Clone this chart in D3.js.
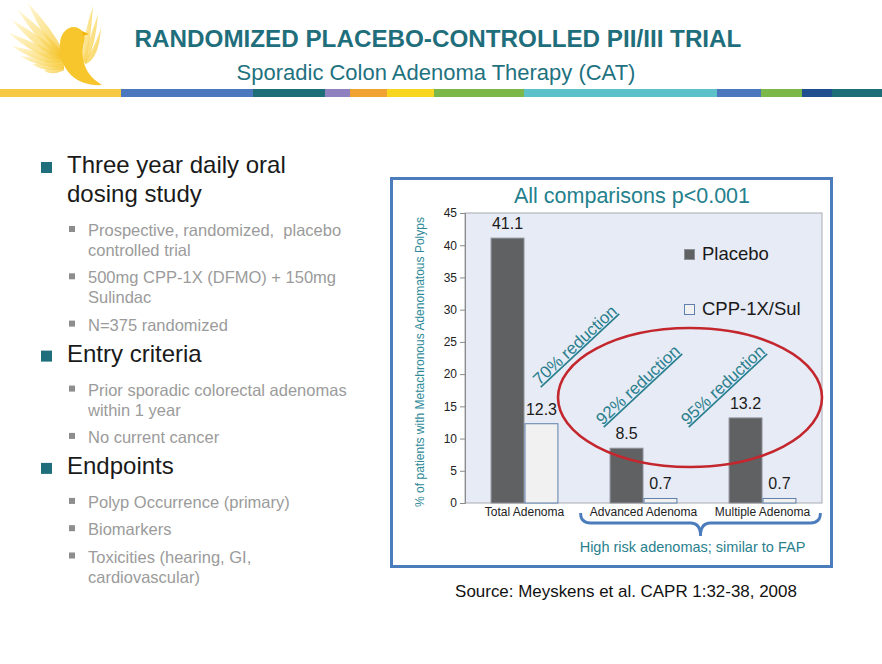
<!DOCTYPE html>
<html><head><meta charset="utf-8">
<script src="https://cdn.jsdelivr.net/npm/d3@7"></script>
<style>
html,body{margin:0;padding:0;background:#fff;}
svg{display:block;font-family:"Liberation Sans",Arial,Helvetica,sans-serif;}
</style></head>
<body>
<script>
// ---------- data ----------
const categories = ["Total Adenoma", "Advanced Adenoma", "Multiple Adenoma"];
const seriesNames = ["Placebo", "CPP-1X/Sul"];
const placeboValues = [41.1, 8.5, 13.2];
const treatedValues = [12.3, 0.7, 0.7];
const yTicks = [0, 5, 10, 15, 20, 25, 30, 35, 40, 45];
const reductionLabels = ["70% reduction", "92% reduction", "95% reduction"];
const reductionAnchorY = [18.2, 12.0, 12.0];      // data units (baseline start)
const reductionOffsetX = [15, -41, -75];          // px from category centre
const yAxisTitle = "% of patients with Metachronous Adenomatous Polyps";
const chartTitle = "All comparisons p<0.001";
const braceLabel = "High risk adenomas; similar to FAP";
const slideTitle = "RANDOMIZED PLACEBO-CONTROLLED PII/III TRIAL";
const slideSubtitle = "Sporadic Colon Adenoma Therapy (CAT)";
const sourceText = "Source: Meyskens et al. CAPR 1:32-38, 2008";
const outline = [
  {level: 0, lines: ["Three year daily oral", "dosing study"]},
  {level: 1, lines: ["Prospective, randomized,  placebo", "controlled trial"]},
  {level: 1, lines: ["500mg CPP-1X (DFMO) + 150mg", "Sulindac"]},
  {level: 1, lines: ["N=375 randomized"]},
  {level: 0, lines: ["Entry criteria"]},
  {level: 1, lines: ["Prior sporadic colorectal adenomas", "within 1 year"]},
  {level: 1, lines: ["No current cancer"]},
  {level: 0, lines: ["Endpoints"]},
  {level: 1, lines: ["Polyp Occurrence (primary)"]},
  {level: 1, lines: ["Biomarkers"]},
  {level: 1, lines: ["Toxicities (hearing, GI,", "cardiovascular)"]}
];
const bandStops = [0, 121, 253, 325, 350, 387, 434, 524, 717, 761, 802, 832, 882];
const bandColors = ["#f6c945", "#4a77bd", "#1e6e78", "#8f80bf", "#f0a232", "#f8d51e",
                    "#7cb749", "#5cc1c9", "#4a77bd", "#7cb749", "#1f4f8e", "#1e6e78"];

// ---------- svg ----------
const W = 882, H = 664;
const svg = d3.select("body").append("svg").attr("width", W).attr("height", H);
const TEAL = "#1f6e7b";

function fitWidth(sel, w) {
  const l = sel.node().getComputedTextLength();
  sel.attr("font-size", parseFloat(sel.attr("font-size")) * w / l);
}

// ---------- logo bird ----------
const defs = svg.append("defs");
const grad = defs.append("linearGradient").attr("id", "birdGrad")
  .attr("x1", "0").attr("y1", "0").attr("x2", "1").attr("y2", "1");
grad.append("stop").attr("offset", "0").attr("stop-color", "#fff3c4");
grad.append("stop").attr("offset", "0.6").attr("stop-color", "#f9d455");
grad.append("stop").attr("offset", "1").attr("stop-color", "#f4b910");
const bird = svg.append("g");
const featherTips = [[28, 3], [18, 10], [12, 20], [9, 33], [12, 46], [20, 56], [32, 64], [44, 70]];
featherTips.forEach(([tx, ty], i) => {
  const bx = 64, by = 60 + i * 1.5;
  const mx = (tx + bx) / 2, my = (ty + by) / 2;
  bird.append("path")
    .attr("d", `M${bx},${by} Q${mx - 4},${my + 6} ${tx},${ty} Q${mx + 6},${my - 3} ${bx},${by - 8} Z`)
    .attr("fill", "url(#birdGrad)").attr("opacity", 0.7);
});
[[93, 6], [98, 14], [101, 28]].forEach(([tx, ty]) => {
  bird.append("path")
    .attr("d", `M82,60 Q${tx - 10},${ty + 30} ${tx},${ty} Q${tx - 2},${ty + 30} 86,64 Z`)
    .attr("fill", "url(#birdGrad)").attr("opacity", 0.75);
});
bird.append("path")
  .attr("d", "M60,44 C60,32 70,24 78,28 C84,31 86,36 84,42 C82,50 82,58 85,66 C88,74 94,80 102,85 C90,86 78,82 71,75 C63,67 59,56 60,44 Z")
  .attr("fill", "#f7c52c");
bird.append("path").attr("d", "M82,31 L89,34 L83,36 Z").attr("fill", "#f2b60c");

// ---------- header ----------
const t1 = svg.append("text").attr("x", 438).attr("y", 47).attr("text-anchor", "middle")
  .attr("font-size", 21).attr("font-weight", "bold").attr("fill", TEAL).text(slideTitle);
fitWidth(t1, 607);
const t2 = svg.append("text").attr("x", 436).attr("y", 80).attr("text-anchor", "middle")
  .attr("font-size", 19).attr("fill", "#1f7280").text(slideSubtitle);
fitWidth(t2, 399);

svg.append("g").selectAll("rect").data(bandColors).join("rect")
  .attr("x", (d, i) => bandStops[i]).attr("y", 89)
  .attr("width", (d, i) => bandStops[i + 1] - bandStops[i]).attr("height", 8)
  .attr("fill", d => d);

// ---------- outline ----------
const og = svg.append("g");
let yCur = 173, prev = null;
outline.forEach(item => {
  if (prev !== null) {
    if (item.level === 0) yCur += 31;
    else if (prev === 0) yCur += 34;
    else yCur += 27.3;
  }
  if (item.level === 0) {
    og.append("rect").attr("x", 41).attr("y", yCur - 11).attr("width", 11).attr("height", 11).attr("fill", TEAL);
  } else {
    og.append("rect").attr("x", 69).attr("y", yCur - 10).attr("width", 6).attr("height", 6).attr("fill", "#8d8d8d");
  }
  item.lines.forEach((ln, j) => {
    if (j > 0) yCur += item.level === 0 ? 29 : 20;
    og.append("text").attr("x", item.level === 0 ? 67 : 88).attr("y", yCur)
      .attr("font-size", item.level === 0 ? 24 : 16.5)
      .attr("fill", item.level === 0 ? "#1a1a1a" : "#9b9b9b")
      .style("white-space", "pre")
      .text(ln);
  });
  prev = item.level;
});

// ---------- chart box ----------
svg.append("rect").attr("x", 391.5).attr("y", 178.5).attr("width", 440).attr("height", 388)
  .attr("fill", "#fff").attr("stroke", "#4b7dbd").attr("stroke-width", 3);

const plot = {left: 465, right: 822, top: 213, bottom: 503};
const x = d3.scaleBand().domain(categories).range([plot.left, plot.right])
  .paddingInner(0.43).paddingOuter(0.215);
const xs = d3.scaleBand().domain(seriesNames).range([0, x.bandwidth()]);
const y = d3.scaleLinear().domain([0, 45]).range([plot.bottom, plot.top]);

svg.append("rect").attr("x", plot.left).attr("y", plot.top)
  .attr("width", plot.right - plot.left).attr("height", plot.bottom - plot.top)
  .attr("fill", "#e7ebf5").attr("stroke", "#a8aab0").attr("stroke-width", 1);

// chart title
svg.append("text").attr("x", 632).attr("y", 203).attr("text-anchor", "middle")
  .attr("font-size", 21.5).attr("fill", "#23808d").text(chartTitle);

// y axis
const yAxis = svg.append("g").attr("transform", `translate(${plot.left},0)`)
  .call(d3.axisLeft(y).tickValues(yTicks).tickSize(5).tickPadding(3));
yAxis.select(".domain").attr("stroke", "#8a8a8a");
yAxis.selectAll(".tick line").attr("stroke", "#8a8a8a");
yAxis.selectAll(".tick text").attr("font-size", 12).attr("fill", "#222")
  .attr("font-family", "Liberation Sans, Arial, sans-serif");

// y title
const yt = svg.append("text").attr("transform", `translate(424,${(plot.top + plot.bottom) / 2 + 4}) rotate(-90)`)
  .attr("text-anchor", "middle").attr("font-size", 11.5).attr("fill", "#2f8a98").text(yAxisTitle);
fitWidth(yt, 290);

// x axis labels
svg.append("g").selectAll("text").data(categories).join("text")
  .attr("x", d => x(d) + x.bandwidth() / 2).attr("y", 516)
  .attr("text-anchor", "middle").attr("font-size", 12).attr("fill", "#222")
  .text(d => d);

// bars
const rows = categories.map((c, i) => ({c, vals: [placeboValues[i], treatedValues[i]]}));
const groups = svg.append("g").selectAll("g").data(rows).join("g")
  .attr("transform", d => `translate(${x(d.c)},0)`);
groups.selectAll("rect").data(d => d.vals.map((v, k) => ({v, s: seriesNames[k]}))).join("rect")
  .attr("x", d => xs(d.s) + 0.5).attr("y", d => y(d.v))
  .attr("width", xs.bandwidth() - 1).attr("height", d => y(0) - y(d.v))
  .attr("fill", d => d.s === "Placebo" ? "#606163" : "#f1f1f1")
  .attr("stroke", d => d.s === "Placebo" ? "#8c9098" : "#5f80ac")
  .attr("stroke-width", 1);
groups.selectAll("text").data(d => d.vals.map((v, k) => ({v, s: seriesNames[k]}))).join("text")
  .attr("x", d => xs(d.s) + xs.bandwidth() / 2).attr("y", d => y(d.v) - 9)
  .attr("text-anchor", "middle").attr("font-size", 16).attr("fill", "#1a1a1a")
  .text(d => d.v.toFixed(1));

// legend
const lg = svg.append("g");
seriesNames.forEach((s, i) => {
  const ly = 260 + i * 55;
  lg.append("rect").attr("x", 684.5).attr("y", ly - 10.5).attr("width", 10).attr("height", 10)
    .attr("fill", s === "Placebo" ? "#606163" : "#f1f1f1")
    .attr("stroke", s === "Placebo" ? "#8c9098" : "#5f80ac");
  lg.append("text").attr("x", 702).attr("y", ly).attr("font-size", 18.5).attr("fill", "#1a1a1a").text(s);
});

// red ellipse
svg.append("ellipse").attr("cx", 690).attr("cy", 397.5).attr("rx", 132).attr("ry", 69.5)
  .attr("fill", "none").attr("stroke", "#c4262d").attr("stroke-width", 2.6);

// reduction annotations
svg.append("g").selectAll("text").data(reductionLabels).join("text")
  .attr("transform", (d, i) => `translate(${x(categories[i]) + x.bandwidth() / 2 + reductionOffsetX[i]},${y(reductionAnchorY[i])}) rotate(-43)`)
  .attr("font-size", 16.8).attr("fill", "#2a7f8e").attr("text-decoration", "underline")
  .text(d => d);

// brace under high-risk categories
const bx0 = x(categories[1]) - 29, bx1 = x(categories[2]) + x.bandwidth() + 24;
const bm = (bx0 + bx1) / 2, byTop = 513, byMid = 523, byTip = 536;
svg.append("path")
  .attr("d", `M${bx0},${byTop} Q${bx0},${byMid} ${bx0 + 10},${byMid} L${bm - 10},${byMid} Q${bm},${byMid} ${bm},${byTip} Q${bm},${byMid} ${bm + 10},${byMid} L${bx1 - 10},${byMid} Q${bx1},${byMid} ${bx1},${byTop}`)
  .attr("fill", "none").attr("stroke", "#4b7dbd").attr("stroke-width", 2.8);
svg.append("text").attr("x", bm - 8).attr("y", 552).attr("text-anchor", "middle")
  .attr("font-size", 14.5).attr("fill", "#2a7f8e").text(braceLabel);

// source
const src = svg.append("text").attr("x", 626).attr("y", 597).attr("text-anchor", "middle")
  .attr("font-size", 16.5).attr("fill", "#111").text(sourceText);
fitWidth(src, 342);
</script>
</body></html>
